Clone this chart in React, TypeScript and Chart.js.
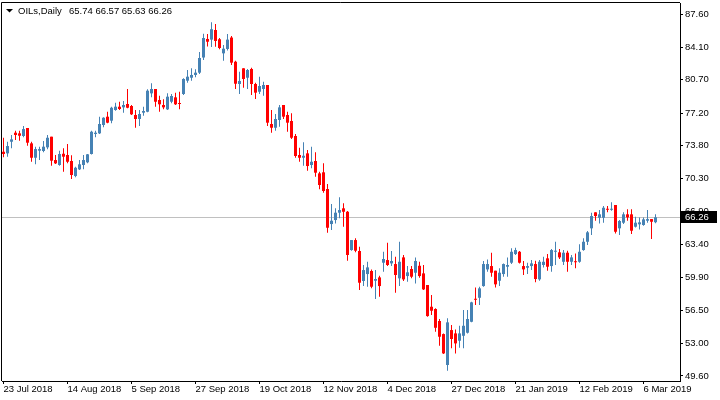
import { useEffect, useRef } from 'react';
import { Chart, registerables } from 'chart.js';

// Register Chart.js components
Chart.register(...registerables);

// Daily OHLC bars, one per trading day (23 Jul 2018 .. 12 Mar 2019)
const opens = [
  73.14, 72.97, 74.19, 75.14, 75.07, 74.79, 75.63, 74.02, 72.51, 73.25,
  73.22, 73.60, 74.72, 72.27, 71.75, 72.93, 72.80, 72.17, 70.59, 71.29,
  71.75, 72.03, 72.90, 75.00, 75.07, 75.95, 76.82, 76.40, 77.52, 77.87,
  77.80, 78.15, 77.94, 77.00, 76.58, 77.24, 77.34, 79.27, 79.73, 78.57,
  78.05, 77.59, 78.39, 78.85, 78.22, 79.20, 80.60, 80.91, 81.20, 81.44,
  83.03, 84.98, 84.91, 85.92, 84.95, 83.47, 83.93, 85.13, 82.59, 80.25,
  81.90, 80.91, 81.83, 80.25, 79.44, 79.73, 80.15, 76.05, 75.66, 76.47,
  78.05, 77.00, 76.37, 74.79, 72.80, 72.51, 72.97, 71.75, 72.17, 70.87,
  70.98, 69.23, 65.55, 65.97, 66.74, 67.20, 66.84, 62.82, 63.87, 62.72,
  59.57, 60.30, 60.62, 59.60, 59.95, 61.49, 61.77, 61.42, 61.35, 59.85,
  62.05, 60.09, 60.83, 60.44, 61.17, 60.37, 59.15, 56.87, 56.63, 55.37,
  54.00, 50.75, 54.42, 54.07, 53.30, 53.82, 54.14, 55.29, 57.68, 57.81,
  59.04, 60.79, 61.14, 60.65, 59.60, 60.30, 61.07, 61.49, 62.40, 62.64,
  61.14, 60.96, 61.14, 61.35, 59.74, 61.25, 61.95, 61.14, 62.64, 62.58,
  61.59, 62.54, 61.59, 61.59, 61.59, 62.82, 63.69, 65.10, 66.78, 66.21,
  66.21, 67.09, 67.05, 67.55, 65.10, 65.69, 66.57, 66.57, 65.27, 65.52,
  65.45, 65.90, 66.07, 65.74,
];
const highs = [
  74.61, 74.19, 74.90, 75.35, 75.35, 75.84, 75.63, 74.19, 73.67, 73.67,
  74.27, 74.90, 74.72, 72.80, 73.25, 73.50, 73.95, 72.76, 71.57, 72.27,
  72.80, 72.90, 75.35, 75.35, 76.82, 76.75, 77.34, 77.87, 78.29, 78.39,
  78.47, 79.73, 78.05, 77.52, 77.52, 77.87, 79.69, 80.32, 79.73, 79.02,
  78.64, 79.27, 79.20, 79.34, 79.44, 80.85, 81.72, 81.90, 81.79, 83.61,
  85.54, 85.50, 86.73, 86.55, 85.08, 84.35, 85.50, 85.29, 82.70, 81.54,
  81.90, 81.83, 81.96, 80.39, 81.02, 80.49, 80.15, 77.52, 77.10, 78.05,
  78.05, 77.34, 77.17, 75.00, 73.56, 74.13, 73.32, 73.67, 73.08, 71.04,
  71.92, 69.75, 67.65, 67.20, 68.35, 67.72, 66.92, 63.87, 64.05, 63.17,
  61.25, 61.59, 60.79, 60.72, 60.12, 62.64, 63.59, 62.72, 62.12, 63.69,
  62.30, 61.14, 61.14, 62.05, 61.59, 61.25, 59.15, 58.10, 56.70, 55.58,
  54.07, 55.65, 54.95, 54.49, 54.87, 56.52, 56.52, 57.39, 58.90, 58.97,
  61.67, 61.84, 62.54, 60.65, 60.90, 61.42, 62.05, 63.00, 63.06, 62.72,
  61.67, 61.49, 61.77, 61.70, 61.77, 62.12, 62.40, 62.93, 63.69, 62.93,
  62.82, 62.75, 62.30, 62.47, 63.42, 64.05, 64.82, 66.74, 66.78, 67.02,
  67.44, 67.44, 67.83, 67.55, 65.97, 66.78, 67.09, 67.09, 66.32, 66.25,
  66.25, 67.02, 66.07, 66.57,
];
const lows = [
  72.55, 72.62, 73.50, 74.37, 74.30, 74.65, 73.77, 72.09, 71.82, 72.27,
  73.08, 73.39, 71.67, 71.85, 71.67, 71.04, 71.92, 70.28, 70.45, 71.22,
  71.29, 71.92, 72.85, 74.65, 75.00, 75.70, 76.12, 76.12, 77.45, 77.52,
  77.24, 77.70, 77.00, 75.66, 75.84, 76.92, 77.28, 78.85, 77.87, 77.34,
  77.59, 77.52, 78.22, 78.05, 77.59, 79.10, 80.39, 80.60, 80.95, 81.30,
  82.77, 84.19, 84.14, 84.17, 83.90, 82.70, 83.77, 82.25, 79.73, 79.20,
  79.86, 79.73, 79.10, 78.68, 79.20, 79.02, 75.84, 75.14, 75.35, 75.77,
  76.58, 75.24, 74.48, 72.51, 72.09, 71.67, 71.15, 71.40, 70.52, 69.19,
  68.84, 64.64, 64.92, 65.62, 66.15, 65.27, 61.70, 62.75, 62.58, 58.62,
  59.04, 58.97, 58.80, 57.68, 57.92, 60.54, 61.14, 61.14, 58.34, 59.04,
  59.57, 59.49, 59.85, 59.32, 59.91, 58.62, 55.82, 56.00, 54.24, 52.77,
  51.90, 50.15, 52.50, 51.97, 52.56, 52.50, 54.07, 55.23, 57.05, 57.05,
  58.97, 60.54, 60.02, 58.90, 59.04, 60.02, 60.02, 61.35, 62.30, 61.42,
  60.20, 60.30, 60.72, 59.43, 59.60, 61.00, 60.65, 60.54, 61.25, 61.88,
  61.25, 60.54, 61.25, 60.90, 61.49, 62.75, 63.35, 64.40, 65.90, 65.62,
  65.69, 66.78, 66.95, 64.57, 64.40, 65.55, 65.90, 64.50, 65.20, 64.99,
  65.37, 65.69, 63.98, 65.63,
];
const closes = [
  72.90, 73.74, 74.44, 74.90, 74.82, 75.52, 74.09, 72.51, 73.42, 73.42,
  73.67, 74.61, 72.20, 71.92, 72.90, 72.62, 72.09, 70.70, 71.46, 71.82,
  72.27, 72.87, 75.24, 75.14, 76.05, 76.71, 76.19, 77.76, 77.87, 77.63,
  78.05, 77.76, 77.07, 76.58, 77.10, 77.42, 79.55, 79.73, 78.39, 78.12,
  77.80, 78.92, 78.99, 78.12, 78.15, 80.78, 81.02, 81.20, 81.44, 82.98,
  85.08, 84.69, 86.00, 84.77, 84.03, 83.96, 84.91, 82.49, 80.28, 80.57,
  80.78, 81.72, 80.25, 79.34, 80.04, 80.15, 76.19, 75.66, 76.58, 77.80,
  76.82, 76.19, 74.61, 72.69, 72.51, 72.72, 71.64, 72.09, 70.94, 69.65,
  69.02, 65.16, 65.90, 66.74, 67.02, 66.84, 62.30, 63.87, 62.75, 59.39,
  60.72, 61.00, 58.97, 59.78, 59.04, 61.88, 61.25, 61.67, 60.20, 61.59,
  59.74, 60.48, 60.02, 61.67, 60.09, 58.69, 55.89, 56.45, 54.66, 53.72,
  51.97, 55.23, 53.48, 53.02, 54.07, 54.87, 55.58, 57.33, 57.60, 58.80,
  61.35, 61.35, 60.44, 59.22, 60.44, 61.35, 61.25, 62.64, 62.82, 61.49,
  60.79, 61.14, 61.42, 59.78, 61.59, 61.59, 61.07, 62.82, 62.75, 62.05,
  62.54, 61.59, 62.05, 61.54, 62.64, 63.69, 64.68, 66.39, 66.39, 66.57,
  67.26, 67.05, 67.09, 64.74, 65.87, 66.57, 66.25, 64.85, 65.69, 65.73,
  66.04, 66.07, 65.79, 66.26,
];

// Bars that carry a date label on the time axis, and their texts
const dateTickBars = [0, 16, 32, 48, 64, 80, 96, 112, 128, 144, 160];
const dateTickLabels = [
  '23 Jul 2018', '14 Aug 2018', '5 Sep 2018', '27 Sep 2018', '19 Oct 2018', '12 Nov 2018',
  '4 Dec 2018', '27 Dec 2018', '21 Jan 2019', '12 Feb 2019', '6 Mar 2019',
];
// Price scale labels
const priceTicks = [87.6, 84.1, 80.7, 77.2, 73.8, 70.3, 66.9, 63.4, 59.9, 56.5, 53.0, 49.6];

const BULL = '#4682B4';
const BEAR = '#FF0000';
const FONT = '"Liberation Sans", Arial, sans-serif';

const barColor = (i: number) => (closes[i] >= opens[i] ? BULL : BEAR);

// MT4-like decorations: frame, bid line, bid label, header
const terminalPlugin = {
  id: 'terminal',
  beforeDatasetsDraw(chart: Chart) {
    const { ctx, chartArea, scales } = chart;
    const y = Math.round(scales.y.getPixelForValue(closes[closes.length - 1])) + 0.5;
    ctx.save();
    ctx.strokeStyle = '#C0C0C0';
    ctx.lineWidth = 1;
    ctx.beginPath();
    ctx.moveTo(chartArea.left, y);
    ctx.lineTo(chartArea.right, y);
    ctx.stroke();
    ctx.restore();
  },
  afterDraw(chart: Chart) {
    const { ctx, chartArea, scales } = chart;
    const last = closes.length - 1;
    ctx.save();

    // left and top edges of the frame
    ctx.strokeStyle = '#000';
    ctx.lineWidth = 1;
    ctx.beginPath();
    ctx.moveTo(chartArea.left - 0.5, chartArea.bottom);
    ctx.lineTo(chartArea.left - 0.5, chartArea.top - 0.5);
    ctx.lineTo(chartArea.right, chartArea.top - 0.5);
    ctx.stroke();

    // bid label on the price scale
    const y = Math.round(scales.y.getPixelForValue(closes[last]));
    ctx.fillStyle = '#000';
    ctx.fillRect(chartArea.right + 1, y - 6, 36, 12);
    ctx.fillStyle = '#fff';
    ctx.font = `9.5px ${FONT}`;
    ctx.textBaseline = 'middle';
    ctx.textAlign = 'left';
    ctx.fillText(closes[last].toFixed(2), chartArea.right + 5, y + 0.5);

    // header
    ctx.fillStyle = '#000';
    ctx.beginPath();
    ctx.moveTo(6, 9);
    ctx.lineTo(13, 9);
    ctx.lineTo(9.5, 12.5);
    ctx.closePath();
    ctx.fill();
    ctx.fillText('OILs,Daily', 18, 11);
    const ohlc = [opens[last], highs[last], lows[last], closes[last]].map((v) => v.toFixed(2)).join(' ');
    ctx.fillText(ohlc, 69, 11);

    ctx.restore();
  },
};

const OilChart = () => {
  const chartRef = useRef<HTMLCanvasElement>(null);
  const chartInstance = useRef<Chart | null>(null);

  useEffect(() => {
    document.body.style.margin = '0';
    if (!chartRef.current) return;
    if (chartInstance.current) chartInstance.current.destroy();

    const idx = opens.map((_, i) => i);
    const tickFont = { family: FONT, size: 9.5 };

    chartInstance.current = new Chart(chartRef.current, {
      type: 'bar',
      data: {
        datasets: [
          {
            label: 'body',
            data: idx.map((i) => ({ x: i, y: [opens[i], closes[i]] })) as any,
            backgroundColor: idx.map(barColor),
            barThickness: 3,
            minBarLength: 1,
            grouped: false,
            borderWidth: 0,
            inflateAmount: 0,
          },
          {
            label: 'wick',
            data: idx.map((i) => ({ x: i, y: [lows[i], highs[i]] })) as any,
            backgroundColor: idx.map(barColor),
            barThickness: 1,
            grouped: false,
            borderWidth: 0,
            inflateAmount: 0,
          },
        ],
      },
      options: {
        responsive: false,
        animation: false,
        events: [],
        layout: { padding: { left: 2, top: 3, right: 0, bottom: 0 } },
        plugins: {
          legend: { display: false },
          tooltip: { enabled: false },
        },
        scales: {
          x: {
            type: 'linear',
            min: -0.375,
            max: 169.125,
            offset: false,
            afterBuildTicks: (scale: any) => {
              scale.ticks = dateTickBars.map((v) => ({ value: v }));
            },
            afterFit: (scale: any) => {
              scale.height = 19;
              scale.paddingLeft = 0;
              scale.paddingRight = 0;
            },
            ticks: {
              align: 'start',
              autoSkip: false,
              maxRotation: 0,
              padding: 0,
              color: '#000',
              font: tickFont,
              callback: (_v: any, i: number) => dateTickLabels[i],
            },
            grid: { offset: false, drawOnChartArea: false, drawTicks: true, tickLength: 3, color: '#000' },
            border: { display: true, color: '#000' },
          },
          y: {
            type: 'linear',
            position: 'right',
            min: 49.073,
            max: 88.755,
            beginAtZero: false,
            afterBuildTicks: (scale: any) => {
              scale.ticks = priceTicks.map((v) => ({ value: v }));
            },
            afterFit: (scale: any) => {
              scale.width = 40;
              scale.paddingTop = 0;
              scale.paddingBottom = 0;
            },
            ticks: {
              padding: 2,
              color: '#000',
              font: tickFont,
              callback: (v: any) => Number(v).toFixed(2),
            },
            grid: { drawOnChartArea: false, drawTicks: true, tickLength: 3, color: '#000' },
            border: { display: true, color: '#000' },
          },
        },
      },
      plugins: [terminalPlugin],
    });

    return () => {
      if (chartInstance.current) {
        chartInstance.current.destroy();
        chartInstance.current = null;
      }
    };
  }, []);

  return <canvas ref={chartRef} width={720} height={400} style={{ display: 'block' }} />;
};

export default function App() {
  return (
    <div style={{ width: 720, height: 400, background: '#fff' }}>
      <OilChart />
    </div>
  );
}
